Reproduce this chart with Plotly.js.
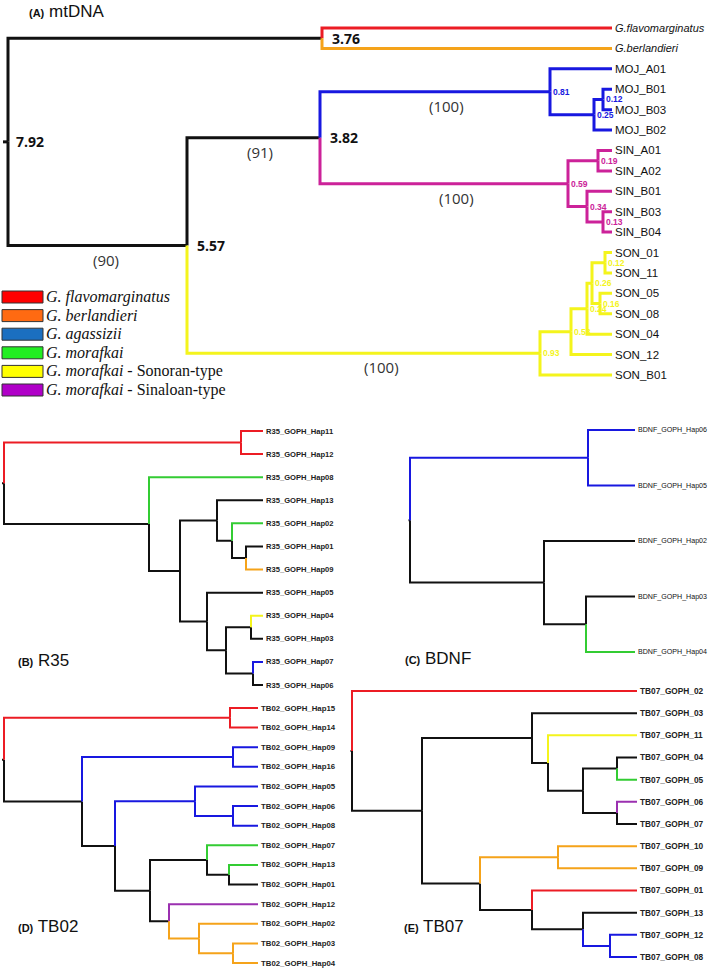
<!DOCTYPE html>
<html>
<head>
<meta charset="utf-8">
<script src="https://cdn.plot.ly/plotly-3.0.1.min.js"></script>
<style>html,body{margin:0;padding:0;background:#fff;}#chart{width:709px;height:970px;}</style>
</head>
<body>
<div id="chart"></div>
<script>
// ---------------- DATA (trees as Newick: name#colour|support:branchLength) ----------------
const treeMtDNA = "((G.flavomarginatus#r:290,G.berlandieri#o:290)3.76:314,(((MOJ_A01:62,((MOJ_B01:9,MOJ_B03:9)0.12:9,MOJ_B02:18)0.25:44)0.81|100#b:230,((SIN_A01:14,SIN_A02:14)0.19:30,(SIN_B01:25,(SIN_B03:9,SIN_B04:9)0.13:16)0.34:19)0.59|100#m:248)3.82|91:133,(((((SON_01:7,SON_11:7)0.12:13,(SON_05:12,SON_08:12)0.16:8)0.26:5,SON_04:25)0.24:16,SON_12:41)0.53:31,SON_B01:72)0.93|100#y:353)5.57|90:179)7.92:5;";
const treeR35 = "((R35_GOPH_Hap11:22,R35_GOPH_Hap12:22)#r:237,(R35_GOPH_Hap08#g:114,((R35_GOPH_Hap13:46,(R35_GOPH_Hap02#g:31,(R35_GOPH_Hap01:17,R35_GOPH_Hap09#o:17):14):15):37,(R35_GOPH_Hap05:56,((R35_GOPH_Hap04#y:12,R35_GOPH_Hap03:12):25,(R35_GOPH_Hap07#b:10,R35_GOPH_Hap06:10):27):19):27):31):145):2;";
const treeBDNF = "((BDNF_GOPH_Hap06:47,BDNF_GOPH_Hap05:47)#b:178,(BDNF_GOPH_Hap02:91,(BDNF_GOPH_Hap03:49,BDNF_GOPH_Hap04#g:49):42):134):1.5;";
const treeTB02 = "((TB02_GOPH_Hap15:28,TB02_GOPH_Hap14:28)#r:226,((TB02_GOPH_Hap09:25,TB02_GOPH_Hap16:25)#b:151,((TB02_GOPH_Hap05:63,(TB02_GOPH_Hap06:25,TB02_GOPH_Hap08:25):38)#b:80,((TB02_GOPH_Hap07#g:51,(TB02_GOPH_Hap13#g:29,TB02_GOPH_Hap01:29):22):57,(TB02_GOPH_Hap12#p:89,(TB02_GOPH_Hap02:59,(TB02_GOPH_Hap03:25,TB02_GOPH_Hap04:25):34)#o:30):19):35):33):78):2;";
const treeTB07 = "(TB07_GOPH_02#r:285,((TB07_GOPH_03:105,(TB07_GOPH_11#y:89,((TB07_GOPH_04:20,TB07_GOPH_05#g:20):34,(TB07_GOPH_06#p:20,TB07_GOPH_07:20):34):35):16):110,((TB07_GOPH_10:79,TB07_GOPH_09:79)#o:78,(TB07_GOPH_01#r:105,(TB07_GOPH_13:54,(TB07_GOPH_12:27,TB07_GOPH_08:27)#b:27):51):52):58):70):1.5;";

const panelTitles = ["(A)|mtDNA", "(B)|R35", "(C)|BDNF", "(D)|TB02", "(E)|TB07"];

const legendNames = ["G. flavomarginatus", "G. berlandieri", "G. agassizii", "G. morafkai", "G. morafkai", "G. morafkai"];
const legendSuffix = ["", "", "", "", " - Sonoran-type", " - Sinaloan-type"];
const legendColors = ["#ff0000", "#ff6a12", "#1b6fc0", "#22ee22", "#ffff00", "#b000c8"];

// ---------------- STYLE ----------------
const W = 709, H = 970;
const COL = {k:"#111111", r:"#ec1c24", o:"#f5a31a", b:"#1818e0", g:"#33cc33", y:"#f4f41c", m:"#cc2299", p:"#9b30b0"};

const panels = [
  {tree:treeMtDNA, x0:3,     x1:612, y0:28,  y1:375, lw:3, leafSize:11.5, leafBold:false, leafShift:1, title:[27,12]},
  {tree:treeR35,   x0:2,     x1:263, y0:431, y1:685, lw:2, leafSize:7.6,  leafBold:true,  leafShift:1, title:[16,660]},
  {tree:treeBDNF,  x0:408.5, x1:635, y0:430, y1:652, lw:2, leafSize:7.1,  leafBold:false, leafShift:1, title:[403,658]},
  {tree:treeTB02,  x0:2,     x1:258, y0:708, y1:963, lw:2, leafSize:7.8,  leafBold:true,  leafShift:1, title:[16,926]},
  {tree:treeTB07,  x0:350.5, x1:637, y0:691, y1:957, lw:2, leafSize:8.3,  leafBold:true,  leafShift:1, title:[402,926]}
];

// ---------------- NEWICK PARSER ----------------
function parseNewick(s) {
  let i = 0;
  function node() {
    const n = {children: []};
    if (s[i] === "(") {
      i++;
      n.children.push(node());
      while (s[i] === ",") { i++; n.children.push(node()); }
      i++; // ')'
    }
    let tok = "";
    while (i < s.length && !",():;".includes(s[i])) tok += s[i++];
    n.len = 0;
    if (s[i] === ":") {
      i++;
      let num = "";
      while (i < s.length && !",();".includes(s[i])) num += s[i++];
      n.len = parseFloat(num);
    }
    const parts = tok.split("#");
    n.color = parts[1];
    const lp = parts[0].split("|");
    n.label = lp[0];
    n.support = lp[1];
    return n;
  }
  return node();
}

function layoutTree(root) {
  let counter = 0;
  const all = [];
  function rec(n, parent) {
    n.parent = parent;
    n.x = (parent ? parent.x : 0) + n.len;
    n.col = n.color || (parent ? parent.col : "k");
    all.push(n);
    if (n.children.length) {
      n.children.forEach(c => rec(c, n));
      n.y = (n.children[0].y + n.children[n.children.length - 1].y) / 2;
    } else {
      n.y = counter++;
    }
  }
  rec(root, null);
  return {all, nLeaves: counter};
}

// ---------------- BUILD ----------------
const traces = [];
const annotations = [];
const shapes = [];
const layout = {
  width: W, height: H,
  margin: {l:0, r:0, t:0, b:0},
  paper_bgcolor: "#ffffff",
  plot_bgcolor: "rgba(0,0,0,0)",
  showlegend: false,
  hovermode: false
};

panels.forEach((P, k) => {
  const root = parseNewick(P.tree);
  const {all, nLeaves} = layoutTree(root);
  const maxDepth = Math.max(...all.map(n => n.x));
  const xs = k === 0 ? "" : String(k + 1);
  const xref = "x" + xs, yref = "y" + xs;

  // axes
  const sx = (P.x1 - P.x0) / maxDepth;
  const padL = Math.min(4, P.x0), padR = 4;
  const sy = (P.y1 - P.y0) / (nLeaves - 1);
  const padT = 4, padB = Math.min(4, H - P.y1);
  layout["xaxis" + xs] = {
    domain: [(P.x0 - padL) / W, (P.x1 + padR) / W],
    range: [-padL / sx, maxDepth + padR / sx],
    anchor: yref, visible: false, fixedrange: true
  };
  layout["yaxis" + xs] = {
    domain: [(H - (P.y1 + padB)) / H, (H - (P.y0 - padT)) / H],
    range: [nLeaves - 1 + padB / sy, -padT / sy],
    anchor: xref, visible: false, fixedrange: true
  };

  // branches grouped by colour
  const groups = {};
  all.forEach(n => {
    const g = groups[n.col] || (groups[n.col] = {x: [], y: []});
    if (n.parent) {
      g.x.push(n.parent.x, n.parent.x, n.x, null);
      g.y.push(n.parent.y, n.y, n.y, null);
    } else {
      g.x.push(0, n.x, null);
      g.y.push(n.y, n.y, null);
    }
  });
  Object.keys(groups).forEach(c => {
    traces.push({
      type: "scatter", mode: "lines", xaxis: xref, yaxis: yref,
      x: groups[c].x, y: groups[c].y,
      line: {color: COL[c], width: P.lw, shape: "linear"},
      hoverinfo: "skip"
    });
  });

  // labels
  all.forEach(n => {
    if (!n.children.length) {
      const italic = n.label.startsWith("G.");
      let txt = italic ? "<i>" + n.label + "</i>" : n.label;
      if (P.leafBold) txt = "<b>" + txt + "</b>";
      annotations.push({
        xref, yref, x: n.x, y: n.y, showarrow: false,
        xanchor: "left", yanchor: "middle", xshift: P.leafShift,
        text: txt,
        font: {family: "Liberation Sans, Arial, sans-serif", size: italic ? 11 : P.leafSize, color: P.leafBold ? "#222" : "#111"}
      });
    } else if (n.label) {
      const v = parseFloat(n.label);
      if (v >= 1) {
        annotations.push({
          xref, yref, x: n.x, y: n.y, showarrow: false,
          xanchor: "left", yanchor: "middle", xshift: n.parent ? 8 : 6,
          text: "<b>" + n.label + "</b>",
          font: {family: "Open Sans, sans-serif", size: 14, color: "#111"}
        });
      } else {
        annotations.push({
          xref, yref, x: n.x, y: n.y, showarrow: false,
          xanchor: "left", yanchor: "middle", xshift: 1,
          text: "<b>" + n.label + "</b>",
          font: {family: "Liberation Sans, Arial, sans-serif", size: 8.5, color: COL[n.col]}
        });
      }
    }
    if (n.support && n.parent) {
      annotations.push({
        xref, yref, x: n.parent.x + 0.55 * (n.x - n.parent.x), y: n.y, showarrow: false,
        xanchor: "center", yanchor: "top", yshift: -2,
        text: "(" + n.support + ")",
        font: {family: "Open Sans, sans-serif", size: 15, color: "#333"}
      });
    }
  });

  // panel title
  const t = panelTitles[k].split("|");
  annotations.push({
    xref: "paper", yref: "paper", x: P.title[0] / W, y: 1 - P.title[1] / H,
    xanchor: "left", yanchor: "middle", showarrow: false,
    text: "<span style='font-size:11px'><b>" + t[0] + "</b></span> " + t[1],
    font: {family: "Liberation Sans, Arial, sans-serif", size: 17, color: "#111"}
  });
});

// legend (panel A)
legendNames.forEach((nm, i) => {
  const cy = 297 + i * 18.6;
  shapes.push({
    type: "rect", xref: "paper", yref: "paper",
    x0: 2 / W, x1: 43 / W, y0: 1 - (cy + 6) / H, y1: 1 - (cy - 6) / H,
    line: {color: "#333", width: 1}, fillcolor: legendColors[i]
  });
  annotations.push({
    xref: "paper", yref: "paper", x: 44 / W, y: 1 - cy / H,
    xanchor: "left", yanchor: "middle", showarrow: false,
    text: "<i>" + nm + "</i>" + legendSuffix[i],
    font: {family: "Liberation Serif, Times New Roman, serif", size: 16, color: "#111"}
  });
});

layout.annotations = annotations;
layout.shapes = shapes;

Plotly.newPlot("chart", traces, layout, {staticPlot: true, displayModeBar: false});
</script>
</body>
</html>
